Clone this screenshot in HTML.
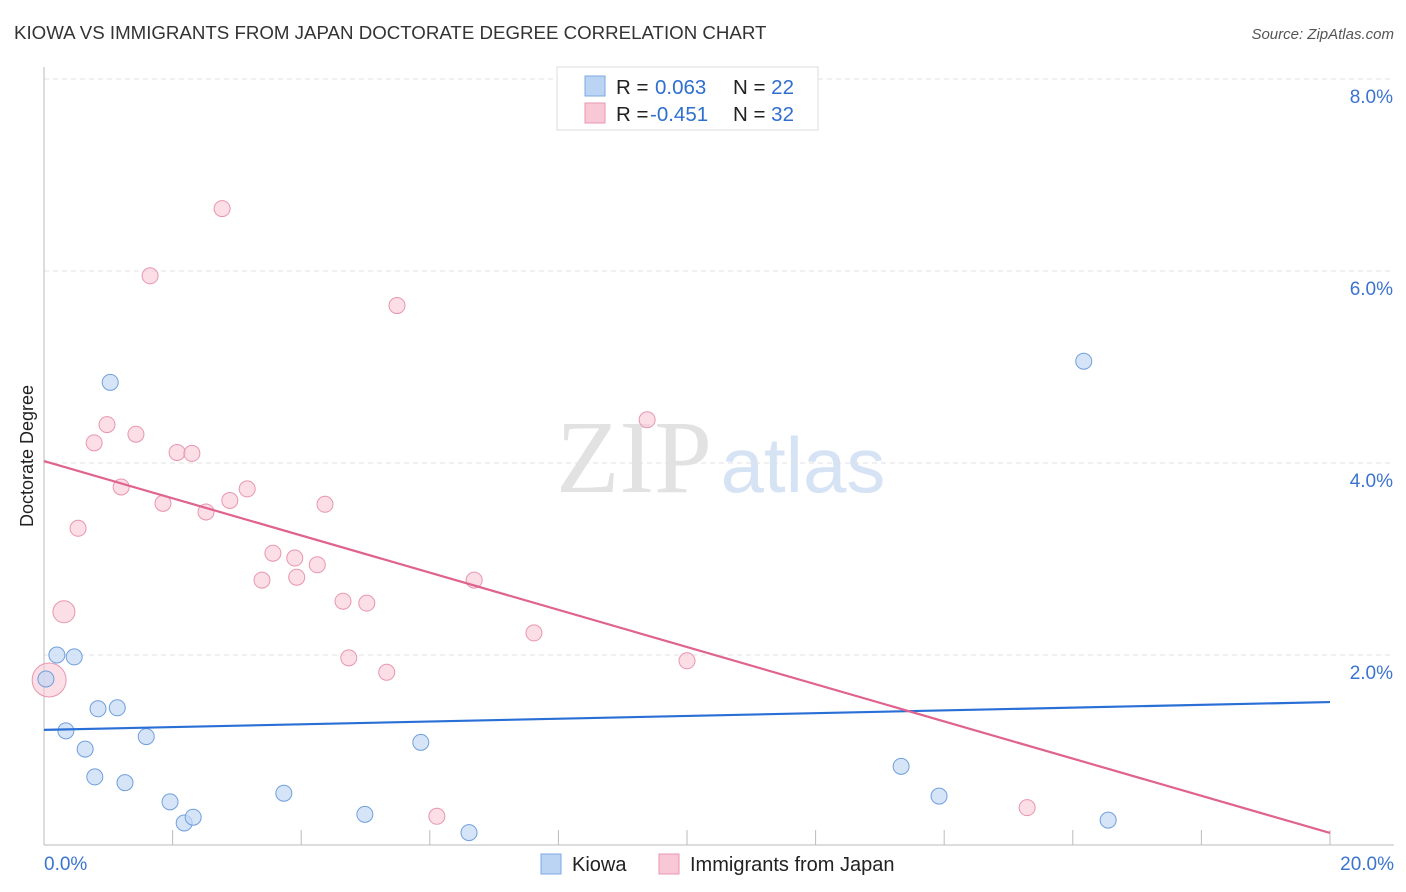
<!DOCTYPE html>
<html><head><meta charset="utf-8"><style>
body{margin:0;background:#fff;font-family:"Liberation Sans",sans-serif;}
svg{display:block}
</style></head><body>
<svg id="chart" width="1406" height="892" xmlns="http://www.w3.org/2000/svg">
<text x="14" y="39" font-size="18.7" fill="#333">KIOWA VS IMMIGRANTS FROM JAPAN DOCTORATE DEGREE CORRELATION CHART</text>
<text x="1394" y="39" font-size="15" fill="#555" font-style="italic" text-anchor="end">Source: ZipAtlas.com</text>
<g>
<text x="634" y="492" font-size="104" fill="#e2e2e2" font-family="Liberation Serif,serif" text-anchor="middle">ZIP</text>
<text x="803" y="492" font-size="78" fill="#d6e3f5" text-anchor="middle">atlas</text>
</g>
<g id="grid"></g>
<g id="axes"></g>
<g id="marks"></g>
<text transform="translate(33,456) rotate(-90)" font-size="18" fill="#222" text-anchor="middle">Doctorate Degree</text>
<g>
<rect x="557" y="67" width="261" height="63" fill="#fff" stroke="#ddd"/>
<rect x="585" y="76" width="20" height="20" fill="#bcd4f4" stroke="#7aaae0"/>
<text x="616" y="94" font-size="20.5" fill="#222">R = <tspan fill="#2e6fd0" x="655">0.063</tspan><tspan fill="#222" x="733">N = </tspan><tspan fill="#2e6fd0">22</tspan></text>
<rect x="585" y="103" width="20" height="20" fill="#f8c8d6" stroke="#e896b0"/>
<text x="616" y="121" font-size="20.5" fill="#222">R = <tspan fill="#2e6fd0" x="650">-0.451</tspan><tspan fill="#222" x="733">N = </tspan><tspan fill="#2e6fd0">32</tspan></text>
</g>
<g>
<rect x="541" y="854" width="20" height="20" fill="#bcd4f4" stroke="#7aaae0"/>
<text x="572" y="871" font-size="20" fill="#222">Kiowa</text>
<rect x="659" y="854" width="20" height="20" fill="#f8c8d6" stroke="#e896b0"/>
<text x="690" y="871" font-size="20" fill="#222">Immigrants from Japan</text>
</g>
</svg>
<script>
const yTicks=[2,4,6,8];
const yTickLabels=["2.0%","4.0%","6.0%","8.0%"];
const xTickLabels=["0.0%","20.0%"];
const kiowaX=[0.03,0.2,0.47,1.03,0.34,0.84,1.14,0.64,0.79,1.26,1.59,1.96,2.18,2.32,3.73,4.99,5.86,6.61,13.33,13.92,16.17,16.55];
const kiowaY=[1.75,2.0,1.98,4.84,1.21,1.44,1.45,1.02,0.73,0.67,1.15,0.47,0.25,0.31,0.56,0.34,1.09,0.15,0.84,0.53,5.06,0.28];
const japanX=[0.08,0.31,0.53,0.78,0.98,1.2,1.43,1.65,1.85,2.07,2.3,2.52,2.77,2.89,3.16,3.39,3.56,3.9,3.93,4.25,4.37,4.65,4.74,5.02,5.33,5.49,6.11,6.69,7.62,9.38,10.0,15.29];
const japanY=[1.74,2.45,3.32,4.21,4.4,3.75,4.3,5.95,3.58,4.11,4.1,3.49,6.65,3.61,3.73,2.78,3.06,3.01,2.81,2.94,3.57,2.56,1.97,2.54,1.82,5.64,0.32,2.78,2.23,4.45,1.94,0.41];
const japanR=[17,11,8,8,8,8,8,8,8,8,8,8,8,8,8,8,8,8,8,8,8,8,8,8,8,8,8,8,8,8,8,8];
const kiowaTrend=[1.22,1.51];
const japanTrend=[4.02,0.146];
const NS="http://www.w3.org/2000/svg";
const X=v=>44+v*(1286/20);
const Y=v=>847-v*96;
function mk(tag,attrs,parent){const e=document.createElementNS(NS,tag);for(const k in attrs)e.setAttribute(k,attrs[k]);document.getElementById(parent).appendChild(e);return e;}
yTicks.forEach((t,i)=>{
 const g=mk('line',{x1:44,x2:1394,y1:Y(t),y2:Y(t),stroke:'#e2e2e2','stroke-dasharray':'5,4'},'grid');
 
 
 const l=mk('text',{x:1393,y:Y(t)+24,'font-size':19,fill:'#3a74d0','text-anchor':'end'},'axes');
 l.textContent=yTickLabels[i];
 
 
});
const ax=mk('line',{x1:44,x2:1394,y1:845,y2:845,stroke:'#bbb'},'axes');


const ay=mk('line',{x1:44,x2:44,y1:67,y2:845,stroke:'#bbb'},'axes');


for(let i=0;i<=10;i++){
 const t=mk('line',{x1:X(i*2),x2:X(i*2),y1:830,y2:845,stroke:'#bbb'},'axes');
 
 
}
[[0,'start',44],[20,'end',1394]].forEach((d,i)=>{
 const l=mk('text',{x:d[2],y:870,'font-size':19,fill:'#3a74d0','text-anchor':d[1]},'axes');
 l.textContent=xTickLabels[i];
 
 
});
japanX.forEach((x,i)=>{
 const c=mk('circle',{cx:X(x),cy:Y(japanY[i]),r:japanR[i],fill:'#f8c8d6','fill-opacity':0.6,stroke:'#e896b0','stroke-width':1},'marks');
 
 
});
kiowaX.forEach((x,i)=>{
 const c=mk('circle',{cx:X(x),cy:Y(kiowaY[i]),r:8,fill:'#c5d9f5','fill-opacity':0.7,stroke:'#6f9fdc','stroke-width':1},'marks');
 
 
});
const kl=mk('line',{x1:X(0),y1:Y(kiowaTrend[0]),x2:X(20),y2:Y(kiowaTrend[1]),stroke:'#2a6fd6','stroke-width':2.2},'marks');


const jl=mk('line',{x1:X(0),y1:Y(japanTrend[0]),x2:X(20),y2:Y(japanTrend[1]),stroke:'#e0628f','stroke-width':2.2},'marks');


</script>
</body></html>
